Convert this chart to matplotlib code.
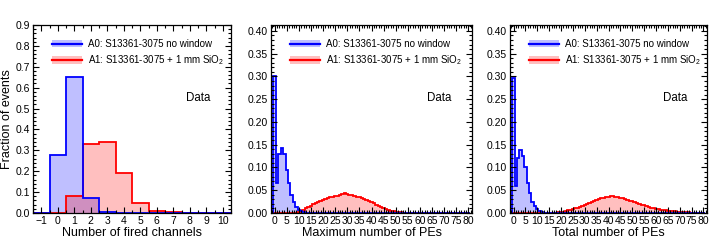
import numpy as np
import matplotlib
matplotlib.use("Agg")
import matplotlib.pyplot as plt
from matplotlib.lines import Line2D
from matplotlib.patches import Patch
from matplotlib.ticker import MultipleLocator, FormatStrFormatter

plt.rcParams['font.family'] = ['Liberation Sans', 'DejaVu Sans']
plt.rcParams['mathtext.fontset'] = 'custom'
plt.rcParams['mathtext.rm'] = 'Liberation Sans'
plt.rcParams['mathtext.it'] = 'Liberation Sans:italic'

# ---- data (fractions of events per bin) ----
# number of fired channels, bins centred on -1..10
nch_centers = list(range(-1, 11))
nch_a0 = [0, 0.28, 0.65, 0.07, 0.005, 0.001, 0, 0, 0, 0, 0, 0]
nch_a1 = [0, 0.001, 0.08, 0.33, 0.34, 0.19, 0.05, 0.01, 0.003, 0.002, 0.001, 0]

# PE histograms, bins centred on 0..80
pe_centers = list(range(0, 81))
maxpe_a0 = [0.30, 0.065, 0.13, 0.143, 0.13, 0.095, 0.065, 0.04, 0.025, 0.013,
            0.007, 0.004, 0.002, 0.001, 0.0005] + [0] * 66
maxpe_a1 = [0, 0, 0, 0, 0, 0, 0, 0, 0.0005, 0.001,
            0.002, 0.004, 0.007, 0.010, 0.013, 0.016, 0.019, 0.021, 0.024, 0.026,
            0.028, 0.030, 0.033, 0.035, 0.036, 0.037, 0.038, 0.039, 0.041, 0.043,
            0.042, 0.040, 0.039, 0.038, 0.036, 0.035, 0.033, 0.031, 0.029, 0.026,
            0.024, 0.021, 0.018, 0.015, 0.013, 0.010, 0.008, 0.006, 0.005, 0.004,
            0.003, 0.002, 0.0015, 0.001, 0.001, 0.0007, 0.0005, 0.0004, 0.0003, 0.0002,
            0.0002] + [0] * 20
totpe_a0 = [0.296, 0.06, 0.12, 0.138, 0.125, 0.10, 0.065, 0.045, 0.025, 0.015,
            0.008, 0.004, 0.002, 0.001, 0.0005] + [0] * 66
totpe_a1 = [0] * 15 + [0.0003, 0.0005, 0.0008, 0.001, 0.0015,
            0.002, 0.003, 0.004, 0.0055, 0.007, 0.008, 0.010, 0.012, 0.014, 0.016,
            0.018, 0.020, 0.022, 0.025, 0.027, 0.029, 0.031, 0.033, 0.034, 0.035,
            0.036, 0.0365, 0.037, 0.036, 0.035, 0.034, 0.032, 0.031, 0.029, 0.027,
            0.026, 0.024, 0.022, 0.020, 0.018, 0.0165, 0.015, 0.013, 0.012, 0.011,
            0.009, 0.008, 0.007, 0.006, 0.0055, 0.005, 0.0045, 0.004, 0.0035, 0.003,
            0.0025, 0.002, 0.002, 0.0015, 0.0015, 0.001, 0.001, 0.001, 0.0008, 0.0008,
            0.0005]

label_a0 = 'A0: S13361-3075 no window'
label_a1 = 'A1: S13361-3075 + 1 mm SiO$_2$'

BLUE, RED = '#0000ff', '#ff0000'
BLUE_FILL = (0, 0, 1, 0.25)
RED_FILL = (1, 0, 0, 0.25)
LW = 1.3


def draw_hist(ax, centers, a0, a1):
    c = np.asarray(centers, dtype=float)
    edges = np.append(c - 0.5, c[-1] + 0.5)
    ax.stairs(a0, edges, fill=True, color=BLUE_FILL, lw=0)
    ax.stairs(a1, edges, fill=True, color=RED_FILL, lw=0)
    ax.stairs(a1, edges, color=RED, lw=LW)
    ax.stairs(a0, edges, color=BLUE, lw=LW)


def style(ax, xmaj, xmin, ymaj, ymin, yfmt):
    ax.xaxis.set_major_locator(MultipleLocator(xmaj))
    ax.xaxis.set_minor_locator(MultipleLocator(xmin))
    ax.yaxis.set_major_locator(MultipleLocator(ymaj))
    ax.yaxis.set_minor_locator(MultipleLocator(ymin))
    ax.yaxis.set_major_formatter(FormatStrFormatter(yfmt))
    ax.tick_params(which='both', direction='in', top=True, right=True,
                   labelsize=7.5, pad=2, width=0.8)
    ax.tick_params(which='major', length=4)
    ax.tick_params(which='minor', length=2)
    for s in ax.spines.values():
        s.set_linewidth(0.9)
    handles = [(Patch(facecolor=BLUE_FILL, edgecolor='none'), Line2D([], [], color=BLUE, lw=1.6)),
               (Patch(facecolor=RED_FILL, edgecolor='none'), Line2D([], [], color=RED, lw=1.6))]
    ax.legend(handles, [label_a0, label_a1], loc='upper left',
              bbox_to_anchor=(0.095, 0.925), frameon=False, fontsize=7,
              handlelength=3.1, handleheight=0.8, handletextpad=0.6,
              labelspacing=0.45, borderpad=0, borderaxespad=0)
    ax.text(0.775, 0.61, 'Data', transform=ax.transAxes, fontsize=8.3,
            ha='left', va='center')


fig = plt.figure(figsize=(7.18, 2.43), dpi=100)
ax1 = fig.add_axes([33 / 718, 30 / 243, 198 / 718, 188 / 243])
ax2 = fig.add_axes([271 / 718, 30 / 243, 201 / 718, 188 / 243])
ax3 = fig.add_axes([510 / 718, 30 / 243, 197 / 718, 188 / 243])

draw_hist(ax1, nch_centers, nch_a0, nch_a1)
ax1.set_xlim(-1.5, 10.5)
ax1.set_ylim(0, 0.9)
style(ax1, 1, 0.5, 0.1, 0.02, '%.1f')
ax1.set_xlabel('Number of fired channels', fontsize=9, labelpad=1)
ax1.set_ylabel('Fraction of events', fontsize=9, labelpad=2)

draw_hist(ax2, pe_centers, maxpe_a0, maxpe_a1)
ax2.set_xlim(-1.5, 81.5)
ax2.set_ylim(0, 0.413)
style(ax2, 5, 1, 0.05, 0.01, '%.2f')
ax2.set_xlabel('Maximum number of PEs', fontsize=9, labelpad=1)

draw_hist(ax3, pe_centers, totpe_a0, totpe_a1)
ax3.set_xlim(-1.5, 81.5)
ax3.set_ylim(0, 0.413)
style(ax3, 5, 1, 0.05, 0.01, '%.2f')
ax3.set_xlabel('Total number of PEs', fontsize=9, labelpad=1)

fig.savefig('out.png', dpi=100)
